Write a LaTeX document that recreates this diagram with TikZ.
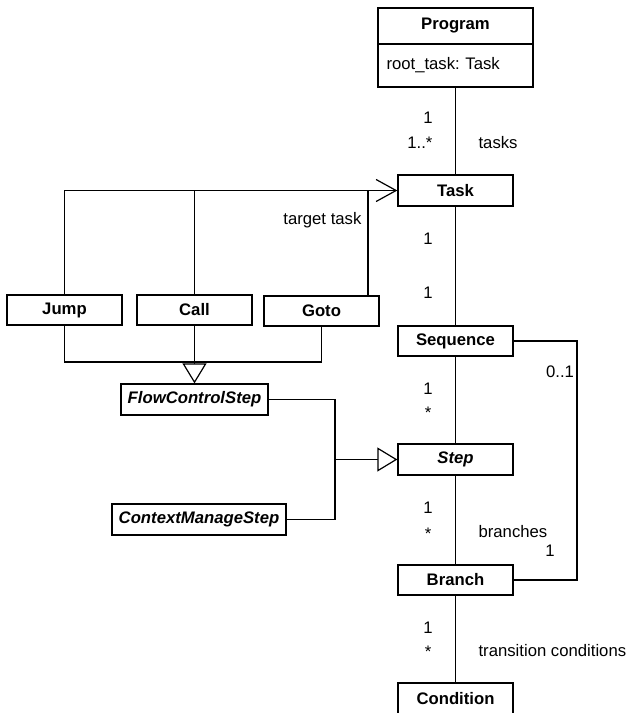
\documentclass[tikz,border=0pt]{standalone}
\usepackage{fontspec}
\setmainfont{Liberation Sans}
\usetikzlibrary{arrows.meta}
\frenchspacing
\begin{document}
\begin{tikzpicture}[x=1pt,y=-1pt,line width=1.2pt,
  every node/.style={font=\fontsize{16.7}{20}\selectfont},
  cls/.style={draw,line width=1.3pt,minimum width=115pt,minimum height=30pt,inner sep=0pt,fill=white,font=\fontsize{16.7}{20}\selectfont\bfseries},
  acls/.style={cls,font=\fontsize{16.7}{20}\selectfont\bfseries\itshape},
  lbl/.style={inner sep=0pt,anchor=base},
  lble/.style={inner sep=0pt,anchor=base east},
  lblw/.style={inner sep=0pt,anchor=base west},
  gen/.style={-{Triangle[length=20pt,width=24pt,fill=white]}},
  nav/.style={-{Straight Barb[length=20pt,width=22pt]}}]
\useasboundingbox (0,0) rectangle (629,713);
\clip (0,0) rectangle (629,713);
% classes
\node[cls,minimum width=155pt,minimum height=36pt] (prog) at (455.5,26) {Program};
\node[draw,line width=1.3pt,minimum width=155pt,minimum height=43pt,inner ysep=0pt,inner xsep=8.5pt,text width=138pt,align=left] (progattr) at (455.5,65.5) {\frenchspacing root\_task: Task};
\node[cls,minimum height=31pt] (task) at (455.5,190.5) {Task};
\node[cls] (seq) at (455.5,341) {Sequence};
\node[acls,minimum height=31pt] (step) at (455.5,459.5) {Step};
\node[cls] (branch) at (455.5,580) {Branch};
\node[cls,minimum height=31pt] (cond) at (455.5,698.5) {Condition};
\node[cls] (jump) at (64.5,310) {Jump};
\node[cls] (call) at (194.5,310) {Call};
\node[cls] (goto) at (321.5,311) {Goto};
\node[acls,minimum width=147pt,minimum height=31pt] (flow) at (194.5,399.5) {FlowControlStep};
\node[acls,minimum width=174pt,minimum height=31pt] (ctx) at (199,519.5) {ContextManageStep};
% helper coordinates
\coordinate (g1) at (194.5,362);
\coordinate (g2) at (335,459.5);
\coordinate (sb) at (577,341);
\coordinate (gotoup) at (368,296);
% associations
\draw (progattr.south) -- (task.north);
\draw (task.south) -- (seq.north);
\draw (seq.south) -- (step.north);
\draw (step.south) -- (branch.north);
\draw (branch.south) -- (cond.north);
\draw (seq.east) -- (sb) |- (branch.east);
% target task
\draw[nav] (jump.north) |- (task.west);
\draw (call.north) -- (call.north |- task.west);
\draw (gotoup) -- (gotoup |- task.west);
% generalizations
\draw (jump.south) |- (g1) -| (goto.south);
\draw[gen] (call.south) -- (flow.north);
\draw (flow.east) -| (g2);
\draw (ctx.east) -| (g2);
\draw[gen] (g2) -- (step.west);
% labels
\node[lbl] (m1) at (428,123) {1};
\node[lble] (m2) at (433,148) {1..*};
\node[lblw] (ltasks) at (478,148) {tasks};
\node[lbl] (m3) at (428,244) {1};
\node[lbl] (m4) at (428,298) {1};
\node[lble] (ltgt) at (362,224) {target task};
\node[lbl] (m5) at (428,394) {1};
\node[lbl] (m6) at (428,418) {*};
\node[lbl] (m7) at (560,377) {0..1};
\node[lbl] (m8) at (428,513) {1};
\node[lbl] (m9) at (428,539) {*};
\node[lblw] (lbr) at (478,537) {branches};
\node[lbl] (m10) at (550,556) {1};
\node[lbl] (m11) at (428,633) {1};
\node[lbl] (m12) at (428,657) {*};
\node[lblw] (ltc) at (478,656) {transition conditions};
\end{tikzpicture}
\end{document}
